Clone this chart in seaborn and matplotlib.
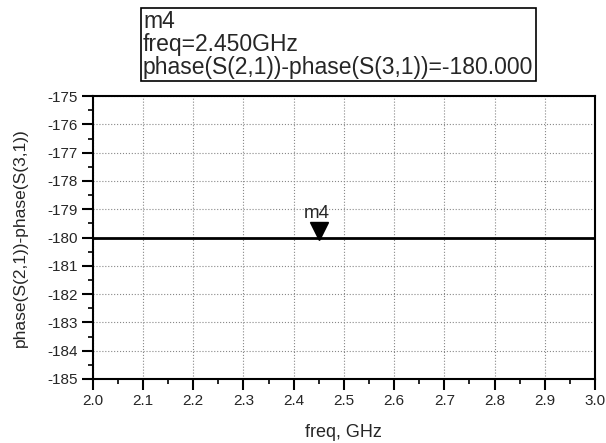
import matplotlib
matplotlib.use("Agg")
import matplotlib.pyplot as plt
import matplotlib.transforms as mtransforms
import seaborn as sns
import pandas as pd

# data
freq = [2.0, 2.25, 2.5, 2.75, 3.0]
phase_diff = [-180.0, -180.0, -180.0, -180.0, -180.0]
marker_freq = 2.45
marker_val = -180.0
marker_name = "m4"
x_ticks = [2.0, 2.1, 2.2, 2.3, 2.4, 2.5, 2.6, 2.7, 2.8, 2.9, 3.0]
y_ticks = [-185, -184, -183, -182, -181, -180, -179, -178, -177, -176, -175]

df = pd.DataFrame({"freq": freq, "phase": phase_diff})

sns.set_style("white")
plt.rcParams['font.family'] = ['Liberation Sans', 'DejaVu Sans']
plt.rcParams['axes.unicode_minus'] = False

fig = plt.figure(figsize=(6.06, 4.43), dpi=100)
ax = fig.add_axes([0.153, 0.1445, 0.829, 0.6385])

sns.lineplot(data=df, x="freq", y="phase", ax=ax, color="black", linewidth=2)

# marker triangle sitting on the trace
off = mtransforms.offset_copy(ax.transData, fig=fig, x=0, y=7, units='dots')
ax.plot([marker_freq], [marker_val], marker='v', markersize=13, color='black',
        linestyle='none', transform=off)
ax.text(marker_freq, marker_val, marker_name, fontsize=13.5, ha='center', va='bottom',
        transform=mtransforms.offset_copy(ax.transData, fig=fig, x=-2, y=16, units='dots'))

ax.set_xlim(2.0, 3.0)
ax.set_ylim(-185, -175)
ax.set_xticks(x_ticks)
ax.set_xticklabels(["%.1f" % t for t in x_ticks])
ax.set_yticks(y_ticks)
ax.set_xticks([t + 0.05 for t in x_ticks[:-1]], minor=True)
ax.set_yticks([t + 0.5 for t in y_ticks[:-1]], minor=True)

ax.grid(True, which='major', color='#888888', linestyle=':', linewidth=0.8)
ax.tick_params(axis='both', which='major', direction='out', length=8, width=1.5,
               color='black', labelsize=11, bottom=True, left=True, pad=3)
ax.tick_params(axis='both', which='minor', direction='out', length=3.6, width=1.2,
               color='black', bottom=True, left=True)
for s in ax.spines.values():
    s.set_color('black')
    s.set_linewidth(1.5)

ax.set_xlabel("freq, GHz", fontsize=13)
ax.xaxis.set_label_coords(0.5, -0.16)
ax.set_ylabel("phase(S(2,1))-phase(S(3,1))", fontsize=12.5)
ax.yaxis.set_label_coords(-0.128, 0.5)

fig.text(143 / 606, 1 - 10 / 443,
         "m4\nfreq=2.450GHz\nphase(S(2,1))-phase(S(3,1))=-180.000",
         fontsize=16.5, ha='left', va='top', linespacing=1.0,
         bbox=dict(boxstyle='square,pad=0.1', facecolor='white', edgecolor='black', linewidth=1.2))

fig.savefig("out.png", dpi=100)
